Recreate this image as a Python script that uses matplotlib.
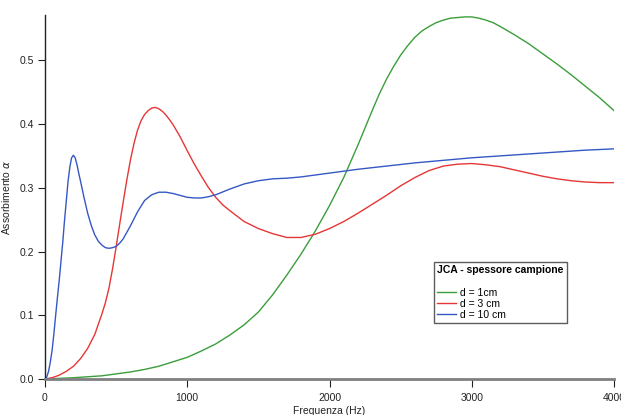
import matplotlib
matplotlib.use("Agg")
import matplotlib.pyplot as plt

plt.rcParams['font.family'] = ['Liberation Sans', 'DejaVu Sans']

# d = 1 cm (green)
freq_d1 = [0, 200, 400, 600, 700, 800, 900, 1000, 1100, 1200, 1300, 1400, 1500, 1600, 1700,
           1800, 1900, 2000, 2100, 2200, 2300, 2350, 2400, 2450, 2500, 2550, 2600, 2650,
           2700, 2750, 2800, 2850, 2900, 2950, 3000, 3050, 3100, 3150, 3200, 3300, 3400,
           3500, 3600, 3700, 3800, 3900, 4000]
alpha_d1 = [0.0, 0.002, 0.005, 0.011, 0.015, 0.020, 0.027, 0.034, 0.044, 0.055, 0.069, 0.085,
            0.105, 0.132, 0.163, 0.196, 0.232, 0.272, 0.316, 0.367, 0.421, 0.447, 0.470,
            0.490, 0.508, 0.523, 0.536, 0.546, 0.553, 0.559, 0.563, 0.566, 0.567, 0.568,
            0.568, 0.566, 0.563, 0.559, 0.553, 0.540, 0.526, 0.510, 0.494, 0.477, 0.459,
            0.441, 0.421]

# d = 3 cm (red)
freq_d3 = [0, 50, 100, 150, 200, 250, 300, 350, 400, 425, 450, 475, 500, 525, 550, 575, 600,
           625, 650, 675, 700, 725, 750, 775, 800, 825, 850, 875, 900, 950, 1000, 1050,
           1100, 1150, 1200, 1250, 1300, 1400, 1500, 1600, 1700, 1800, 1900, 2000, 2100,
           2200, 2300, 2400, 2500, 2600, 2700, 2800, 2900, 3000, 3100, 3200, 3300, 3400,
           3500, 3600, 3700, 3800, 3900, 4000]
alpha_d3 = [0.0, 0.002, 0.006, 0.012, 0.020, 0.032, 0.048, 0.070, 0.102, 0.120, 0.143, 0.173,
            0.207, 0.243, 0.278, 0.312, 0.343, 0.369, 0.390, 0.405, 0.415, 0.421, 0.425,
            0.426, 0.424, 0.420, 0.414, 0.407, 0.399, 0.380, 0.358, 0.337, 0.318, 0.300,
            0.285, 0.273, 0.264, 0.247, 0.236, 0.228, 0.222, 0.222, 0.227, 0.236, 0.247,
            0.260, 0.274, 0.288, 0.303, 0.316, 0.327, 0.334, 0.337, 0.338, 0.336, 0.333,
            0.328, 0.323, 0.318, 0.314, 0.311, 0.309, 0.308, 0.308]

# d = 10 cm (blue)
freq_d10 = [0, 12, 25, 37, 50, 62, 75, 87, 100, 112, 125, 137, 150, 162, 175, 187, 200, 212,
            225, 237, 250, 275, 300, 325, 350, 375, 400, 425, 450, 475, 500, 525, 550, 600,
            650, 700, 750, 800, 850, 900, 950, 1000, 1050, 1100, 1150, 1200, 1300, 1400,
            1500, 1600, 1700, 1800, 1900, 2000, 2200, 2400, 2600, 2800, 3000, 3200, 3400,
            3600, 3800, 4000]
alpha_d10 = [0.0, 0.003, 0.012, 0.026, 0.045, 0.070, 0.100, 0.127, 0.155, 0.184, 0.215,
             0.248, 0.280, 0.310, 0.333, 0.347, 0.351, 0.347, 0.336, 0.323, 0.310, 0.284,
             0.260, 0.241, 0.226, 0.216, 0.210, 0.206, 0.205, 0.206, 0.208, 0.213, 0.220,
             0.240, 0.262, 0.280, 0.289, 0.293, 0.293, 0.291, 0.288, 0.285, 0.284, 0.284,
             0.286, 0.289, 0.298, 0.306, 0.311, 0.314, 0.315, 0.317, 0.320, 0.323, 0.329,
             0.334, 0.339, 0.343, 0.347, 0.350, 0.353, 0.356, 0.359, 0.361]

labels = ["d = 1cm", "d = 3 cm", "d = 10 cm"]
x_ticks = [0, 1000, 2000, 3000, 4000]
y_ticks = [0.0, 0.1, 0.2, 0.3, 0.4, 0.5]

fig = plt.figure(figsize=(6.21, 4.15), dpi=100)
ax = fig.add_axes([45/621, 36/415, 569/621, 364/415])

ax.plot(freq_d1, alpha_d1, color='#3a9e3a', lw=1.0, label=labels[0])
ax.plot(freq_d3, alpha_d3, color='#e63636', lw=1.0, label=labels[1])
ax.plot(freq_d10, alpha_d10, color='#3558c4', lw=1.0, label=labels[2])

ax.set_xlim(0, 4000)
ax.set_ylim(0, 0.571)
ax.set_xticks(x_ticks)
ax.set_xticklabels([str(t) for t in x_ticks])
ax.set_yticks(y_ticks)
ax.set_yticklabels([f"{t:.1f}" for t in y_ticks])

for s in ['top', 'right']:
    ax.spines[s].set_visible(False)
ax.spines['left'].set_color('#222222')
ax.spines['left'].set_linewidth(1.0)
ax.spines['bottom'].set_color('#808080')
ax.spines['bottom'].set_linewidth(2.0)

ax.tick_params(axis='y', direction='out', length=5, width=0.8, color='#222222',
               labelsize=7.5, labelcolor='#222222', pad=3)
ax.tick_params(axis='x', direction='out', length=6, width=0.8, color='#222222',
               labelsize=7.5, labelcolor='#222222', pad=4)

ax.set_xlabel("Frequenza (Hz)", fontsize=7.5, color='#222222', labelpad=2)
ax.set_ylabel("Assorbimento $\\alpha$", fontsize=7.5, color='#222222', labelpad=5)

leg = ax.legend(loc='upper left', bbox_to_anchor=(0.684, 0.321), borderaxespad=0,
                title="JCA - spessore campione\n", fontsize=7.5, frameon=True,
                fancybox=False, edgecolor='#333333', handlelength=1.8,
                handletextpad=0.4, labelspacing=0.1, borderpad=0.3)
leg.get_title().set_fontweight('bold')
leg.get_title().set_fontsize(7.5)
leg._legend_box.align = "left"
leg.get_frame().set_linewidth(1.0)

fig.savefig("out.png", dpi=100)
